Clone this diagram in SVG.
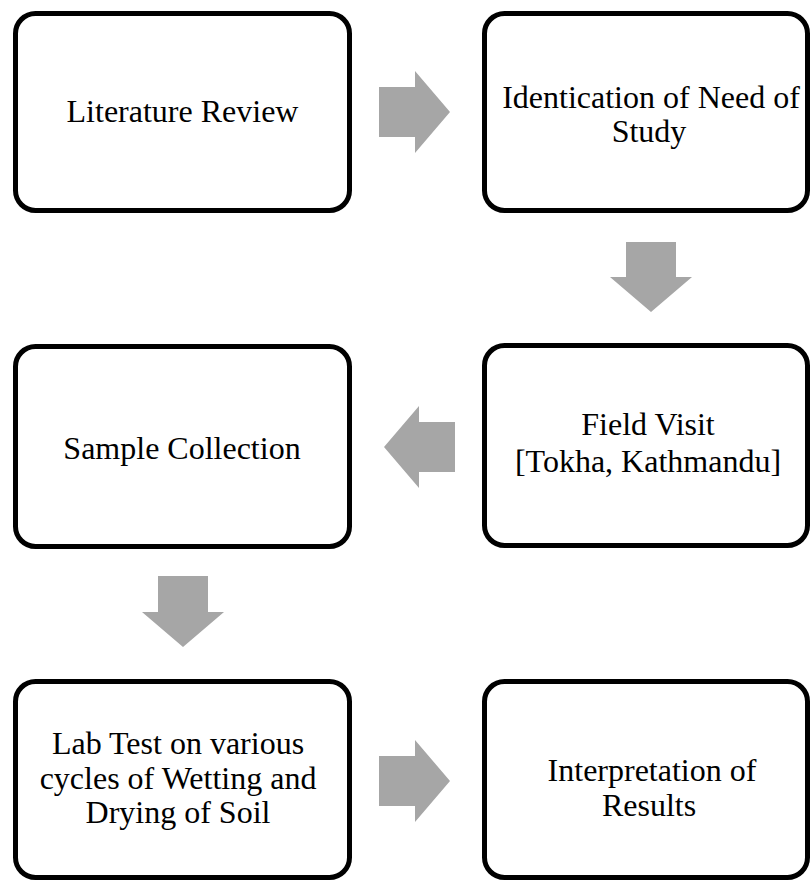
<svg xmlns="http://www.w3.org/2000/svg" width="810" height="880" viewBox="0 0 810 880">
<style>
.box{fill:#ffffff;stroke:#000000;stroke-width:5}
.lbl{font-family:"Liberation Serif","Times New Roman",serif;font-size:32px;fill:#000000;text-anchor:middle}
.arr{fill:#a6a6a6;stroke:none}
</style>
<rect width="810" height="880" fill="#ffffff"/>
<g id="connectors">
<polygon class="arr" points="379,87 415,87 415,71 450,112 415,153 415,137 379,137"/>
<polygon class="arr" points="626,242 676,242 676,277 692,277 651,312 610,277 626,277"/>
<polygon class="arr" points="455,422 419,422 419,406 384,447 419,488 419,472 455,472"/>
<polygon class="arr" points="158,576 208,576 208,612 224,612 183,647 142,612 158,612"/>
<polygon class="arr" points="379,756 415,756 415,740 450,781 415,822 415,806 379,806"/>
</g>
<g id="n1">
<rect class="box" x="15.5" y="13.5" width="334" height="197" rx="20"/>
<text class="lbl" x="182.5" y="122">Literature Review</text>
</g>
<g id="n2">
<rect class="box" x="484.5" y="13.5" width="323" height="197" rx="20"/>
<text class="lbl" x="651" y="108">Identication of Need of</text>
<text class="lbl" x="649" y="142">Study</text>
</g>
<g id="n3">
<rect class="box" x="484.5" y="345.5" width="323" height="200" rx="20"/>
<text class="lbl" x="648" y="435">Field Visit</text>
<text class="lbl" x="648" y="472">[Tokha, Kathmandu]</text>
</g>
<g id="n4">
<rect class="box" x="15.5" y="346.5" width="334" height="200" rx="20"/>
<text class="lbl" x="182" y="459">Sample Collection</text>
</g>
<g id="n5">
<rect class="box" x="15.5" y="681.5" width="334" height="196" rx="20"/>
<text class="lbl" x="178" y="754">Lab Test on various</text>
<text class="lbl" x="178" y="789">cycles of Wetting and</text>
<text class="lbl" x="178" y="823">Drying of Soil</text>
</g>
<g id="n6">
<rect class="box" x="484.5" y="681.5" width="323" height="196" rx="20"/>
<text class="lbl" x="652" y="781">Interpretation of</text>
<text class="lbl" x="649" y="816">Results</text>
</g>
</svg>
